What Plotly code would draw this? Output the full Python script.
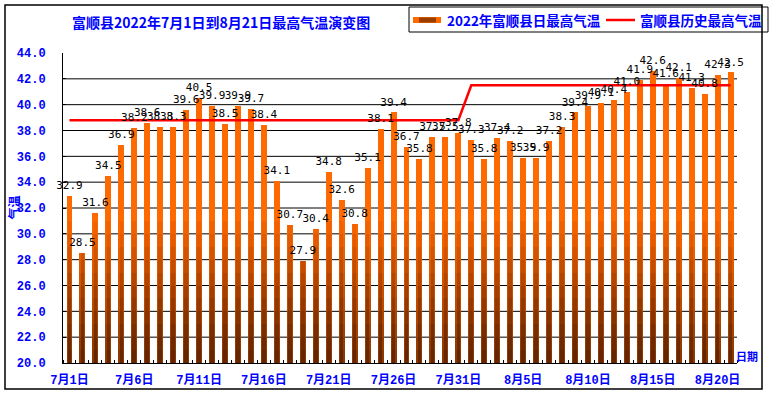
import plotly.graph_objects as go

# ---------------- data ----------------
dates = ["7月1日", "7月2日", "7月3日", "7月4日", "7月5日", "7月6日", "7月7日", "7月8日",
         "7月9日", "7月10日", "7月11日", "7月12日", "7月13日", "7月14日", "7月15日", "7月16日",
         "7月17日", "7月18日", "7月19日", "7月20日", "7月21日", "7月22日", "7月23日", "7月24日",
         "7月25日", "7月26日", "7月27日", "7月28日", "7月29日", "7月30日", "7月31日",
         "8月1日", "8月2日", "8月3日", "8月4日", "8月5日", "8月6日", "8月7日", "8月8日",
         "8月9日", "8月10日", "8月11日", "8月12日", "8月13日", "8月14日", "8月15日", "8月16日",
         "8月17日", "8月18日", "8月19日", "8月20日", "8月21日"]

tmax_2022 = [32.9, 28.5, 31.6, 34.5, 36.9, 38.2, 38.6, 38.3, 38.3, 39.6,
             40.5, 39.9, 38.5, 39.9, 39.7, 38.4, 34.1, 30.7, 27.9, 30.4,
             34.8, 32.6, 30.8, 35.1, 38.1, 39.4, 36.7, 35.8, 37.5, 37.5,
             37.8,
             37.3, 35.8, 37.4, 37.2, 35.9, 35.9, 37.2, 38.3, 39.4, 39.9,
             40.1, 40.4, 41.0, 41.9, 42.6, 41.6, 42.1, 41.3, 40.8, 42.3,
             42.5]

tmax_hist = [38.8, 38.8, 38.8, 38.8, 38.8, 38.8, 38.8, 38.8, 38.8, 38.8,
             38.8, 38.8, 38.8, 38.8, 38.8, 38.8, 38.8, 38.8, 38.8, 38.8,
             38.8, 38.8, 38.8, 38.8, 38.8, 38.8, 38.8, 38.8, 38.8, 38.8,
             38.8,
             41.5, 41.5, 41.5, 41.5, 41.5, 41.5, 41.5, 41.5, 41.5, 41.5,
             41.5, 41.5, 41.5, 41.5, 41.5, 41.5, 41.5, 41.5, 41.5, 41.5,
             41.5]

y_ticks = [20, 22, 24, 26, 28, 30, 32, 34, 36, 38, 40, 42, 44]
x_label_step = 5

series_name_1 = "2022年富顺县日最高气温"
series_name_2 = "富顺县历史最高气温"
chart_title = "富顺县2022年7月1日到8月21日最高气温演变图"
y_title = "气温"
x_title = "日期"

# ---------------- style ----------------
W, H = 769, 396
ML, MR, MT, MB = 59, 32, 53, 33          # paper area (plot starts 4px right of it)
PW, PH = W - ML - MR, H - MT - MB
LABEL_SHIFT = 4 / PW                      # data labels sit 4px left of bar centres
BLUE = "#0000FF"
CJK = "Noto Sans CJK SC"
MONO = "Liberation Mono"


def fx(px):
    return (px - ML) / PW


def fy(py):
    return (H - MB - py) / PH


x_idx = list(range(len(dates)))
labels = ["%.1f" % v for v in tmax_2022]
x_range = [-0.5, len(dates) - 0.5]

fig = go.Figure()

# main bars (bright orange top)
BAR_W = 0.46
fig.add_trace(go.Bar(x=x_idx, y=tmax_2022, width=BAR_W,
                     marker=dict(color="#FF6A00", line=dict(width=0)),
                     name=series_name_1, showlegend=False, hoverinfo="skip"))

# darker shading towards the bottom (gradient imitation)
shade_levels = [31, 30, 29, 28, 27, 26, 25, 24, 23, 22, 21]
edge_colors = ["#FA6700", "#F26300", "#E85F00", "#DE5A00", "#D25500", "#C65000",
               "#BA4B00", "#AE4600", "#A24100", "#963C00", "#8C3800"]
core_colors = ["#F06200", "#E25B00", "#D25400", "#C24D00", "#B24600", "#A23F00",
               "#933900", "#853300", "#782E00", "#6D2A00", "#642600"]
for lvl, ce in zip(shade_levels, edge_colors):
    fig.add_trace(go.Bar(x=x_idx, y=[min(v, lvl) for v in tmax_2022], width=BAR_W,
                         marker=dict(color=ce, line=dict(width=0)),
                         showlegend=False, hoverinfo="skip"))
for lvl, cc in zip(shade_levels, core_colors):
    fig.add_trace(go.Bar(x=x_idx, y=[min(v, lvl) for v in tmax_2022], width=0.28,
                         marker=dict(color=cc, line=dict(width=0)),
                         showlegend=False, hoverinfo="skip"))

# historical max line
fig.add_trace(go.Scatter(x=x_idx, y=tmax_hist, mode="lines",
                         line=dict(color="#FF0000", width=2.5),
                         name=series_name_2, showlegend=False, hoverinfo="skip"))

# data labels (on a twin x axis shifted 4px left, invisible markers lift the text)
fig.add_trace(go.Scatter(x=x_idx, y=tmax_2022, mode="markers+text", text=labels,
                         xaxis="x2", yaxis="y",
                         marker=dict(size=5, color="rgba(0,0,0,0)"),
                         textposition="top center",
                         textfont=dict(family="DejaVu Sans Mono", size=11, color="black"),
                         cliponaxis=False, showlegend=False, hoverinfo="skip"))

tick_idx = x_idx[::x_label_step]
fig.update_layout(
    width=W, height=H,
    margin=dict(l=ML, r=MR, t=MT, b=MB, autoexpand=False),
    paper_bgcolor="white", plot_bgcolor="white",
    barmode="overlay", bargap=0,
    showlegend=False,
    xaxis=dict(domain=[LABEL_SHIFT, 1], range=x_range, tickmode="array",
               tickvals=tick_idx, ticktext=[dates[i] for i in tick_idx],
               ticks="", showgrid=False, zeroline=False, automargin=False,
               showline=True, linecolor="black", linewidth=1,
               tickfont=dict(family=MONO + ", " + CJK, size=12, color=BLUE, weight="bold"),
               ticklabelstandoff=6,
               minor=dict(ticks="inside", tick0=-0.5, dtick=1, ticklen=3,
                          tickcolor="black", showgrid=False)),
    xaxis2=dict(domain=[0, 1 - LABEL_SHIFT], range=x_range, overlaying="x",
                visible=False, anchor="y", automargin=False),
    yaxis=dict(range=[y_ticks[0], y_ticks[-1]], tickmode="array", tickvals=y_ticks,
               tickformat=".1f", ticks="inside", ticklen=3, tickcolor="black",
               showgrid=False, zeroline=False, automargin=False,
               showline=True, linecolor="black", linewidth=1,
               tickfont=dict(family=MONO, size=12, color=BLUE, weight="bold"),
               ticklabelstandoff=14),
)

shapes = []
# horizontal grid lines (between the axis ends)
for t in y_ticks[1:-1]:
    shapes.append(dict(type="line", xref="x domain", yref="y", x0=0, x1=1, y0=t, y1=t,
                       line=dict(color="black", width=1), layer="below"))
# outer frame
shapes.append(dict(type="rect", xref="paper", yref="paper",
                   x0=fx(5), x1=fx(762), y0=fy(389), y1=fy(5),
                   line=dict(color="black", width=1.5)))
# legend frame
shapes.append(dict(type="rect", xref="paper", yref="paper",
                   x0=fx(409), x1=fx(768), y0=fy(32), y1=fy(7),
                   line=dict(color="black", width=1)))
# legend swatch for bars
shapes.append(dict(type="rect", xref="paper", yref="paper",
                   x0=fx(413), x1=fx(441), y0=fy(23), y1=fy(17),
                   fillcolor="#FF6A00", line=dict(width=0)))
shapes.append(dict(type="rect", xref="paper", yref="paper",
                   x0=fx(419), x1=fx(436), y0=fy(22.5), y1=fy(17.5),
                   fillcolor="#9A3E00", line=dict(width=0)))
# legend line sample
shapes.append(dict(type="line", xref="paper", yref="paper",
                   x0=fx(606), x1=fx(635), y0=fy(20), y1=fy(20),
                   line=dict(color="#FF0000", width=2.5)))
fig.update_layout(shapes=shapes)

ann_font = dict(family=CJK, color=BLUE, weight="bold")
annotations = [
    dict(text=chart_title, xref="paper", yref="paper", x=fx(221), y=fy(22),
         xanchor="center", yanchor="middle", showarrow=False,
         font=dict(size=14, **ann_font)),
    dict(text=series_name_1, xref="paper", yref="paper", x=fx(445), y=fy(20),
         xanchor="left", yanchor="middle", showarrow=False,
         font=dict(size=13.5, **ann_font)),
    dict(text=series_name_2, xref="paper", yref="paper", x=fx(638), y=fy(20),
         xanchor="left", yanchor="middle", showarrow=False,
         font=dict(size=13.5, **ann_font)),
    dict(text=y_title, xref="paper", yref="paper", x=fx(12.5), y=fy(208),
         xanchor="center", yanchor="middle", textangle=-90, showarrow=False,
         font=dict(size=12, **ann_font)),
    dict(text=x_title, xref="paper", yref="paper", x=fx(747), y=fy(356),
         xanchor="center", yanchor="middle", showarrow=False,
         font=dict(size=11, **ann_font)),
]
fig.update_layout(annotations=annotations)

fig.write_html("out.html", config={"displayModeBar": False},
               post_script="document.body.style.margin='0px';")
